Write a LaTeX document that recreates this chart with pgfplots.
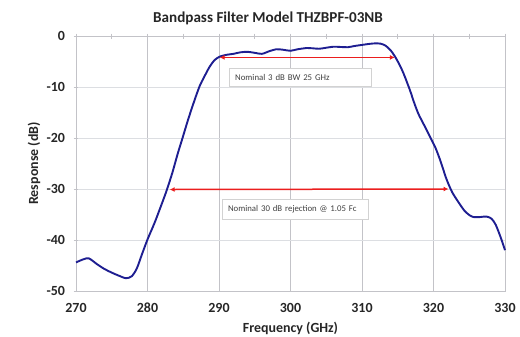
\documentclass[border=0pt]{standalone}
\usepackage{fontspec}
\setmainfont{Carlito}
\usepackage{pgfplots}
\pgfplotsset{compat=1.18}
\usetikzlibrary{arrows.meta}
\definecolor{curveblue}{RGB}{30,30,145}
\definecolor{arrred}{RGB}{235,30,30}
\definecolor{vgrid}{RGB}{195,195,200}
\definecolor{hgrid}{RGB}{220,222,226}
\begin{document}
\begin{tikzpicture}
\begin{axis}[
  at={(0bp,0bp)}, anchor=south west,
  scale only axis, width=429bp, height=255bp,
  xmin=270, xmax=330, ymin=-50, ymax=0,
  xtick={270,280,...,330}, ytick={-50,-40,...,0},
  minor x tick num=1,
  xtick pos=right, xticklabel pos=left,
  ytick pos=left,
  tick align=center,
  major tick length=5bp, minor tick length=5bp,
  tick style={vgrid, line width=0.6bp},
  grid=major,
  x grid style={vgrid, line width=0.8bp},
  y grid style={hgrid, line width=0.8bp},
  axis line style={vgrid, line width=0.8bp},
  /pgf/number format/assume math mode=true,
  ticklabel style={font=\bfseries\fontsize{14}{14}\selectfont, text=black!85},
  xticklabel style={anchor=base, yshift=-19bp},
  yticklabel style={anchor=east, xshift=-5bp},
  clip=false,
]
\addplot[curveblue, line width=1.9bp, smooth, tension=0.45] table {
x y
270 -44.4
271 -43.8
271.8 -43.6
273 -44.8
274 -45.7
275 -46.4
276 -47.0
277 -47.5
277.8 -47.1
278.5 -45.6
279.2 -42.9
280 -39.9
281 -36.6
282 -32.9
282.7 -30.2
283.5 -26.7
284.2 -23.2
284.9 -20.0
285.7 -16.3
286.6 -12.5
287.3 -9.8
287.9 -8.1
288.7 -6.0
289.4 -4.7
290.1 -4.05
291 -3.7
292 -3.5
293 -3.2
294 -3.1
295 -3.3
296 -3.5
297 -3.0
298 -2.6
299 -2.7
300 -2.9
301 -2.6
302.3 -2.35
303 -2.4
304 -2.5
305 -2.3
306 -2.1
307 -2.15
308 -2.2
309 -1.95
310 -1.75
311 -1.55
311.8 -1.45
312.6 -1.5
313.3 -1.9
314 -2.8
314.6 -4
315.2 -5.5
315.8 -7.3
316.7 -10.6
317.3 -13.1
317.9 -15.3
318.7 -17.5
319.6 -20.0
320.3 -22.0
321 -24.6
321.8 -28.0
322.6 -30.6
323.5 -32.6
324.3 -34.2
325 -35.1
325.6 -35.5
326.5 -35.5
327.4 -35.4
328.1 -35.8
328.7 -37.0
329.4 -39.5
330 -42
};
\addplot[arrred, line width=1.5bp, {Latex[length=5bp,width=5bp]}-{Latex[length=5bp,width=5bp]}] coordinates {(290.1,-4.2) (314.6,-4.2)};
\addplot[arrred, line width=1.5bp, {Latex[length=5bp,width=5bp]}-{Latex[length=5bp,width=5bp]}] coordinates {(283.1,-30.1) (322.1,-30.0)};
\node[draw=gray!35, fill=white, anchor=west, minimum height=18bp, inner xsep=6bp, text width=130bp, align=left, font=\fontsize{8.8}{10}\selectfont, text=black!75] at (axis cs:291.4,-8.05) {Nominal 3 dB BW 25 GHz};
\node[draw=gray!35, fill=white, anchor=west, minimum height=20bp, inner xsep=6bp, text width=134bp, align=left, font=\fontsize{8.8}{10}\selectfont, text=black!75] at (axis cs:290.4,-33.9) {Nominal 30 dB rejection @ 1.05 Fc};
\end{axis}
\node[font=\bfseries\fontsize{15.2}{17}\selectfont, text=black!85] at (192bp,273bp) {Bandpass Filter Model THZBPF-03NB};
\node[font=\bfseries\fontsize{14}{16}\selectfont, text=black!85] at (214.5bp,-37bp) {Frequency (GHz)};
\node[font=\bfseries\fontsize{14}{16}\selectfont, text=black!85, rotate=90] at (-42bp,127.5bp) {Response (dB)};
\pgfresetboundingbox
\path (-76bp,-46bp) rectangle (444bp,291bp);
\end{tikzpicture}
\end{document}
